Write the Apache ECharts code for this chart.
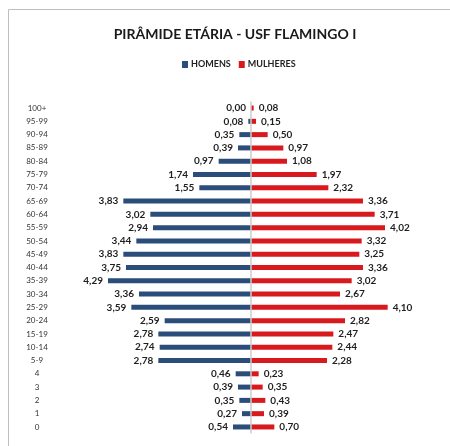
<!DOCTYPE html>
<html>
<head>
<meta charset="utf-8">
<script src="https://cdn.jsdelivr.net/npm/echarts@6/dist/echarts.min.js"></script>
<style>
  html, body { margin: 0; padding: 0; background: #fff; }
  #chart { width: 450px; height: 446px; }
</style>
</head>
<body>
<div id="chart"></div>
<script>
// Age groups, bottom to top
var faixas = ['0', '1', '2', '3', '4', '5-9', '10-14', '15-19', '20-24', '25-29',
  '30-34', '35-39', '40-44', '45-49', '50-54', '55-59', '60-64', '65-69',
  '70-74', '75-79', '80-84', '85-89', '90-94', '95-99', '100+'];

// Percent of population by age group
var homens = [0.54, 0.27, 0.35, 0.39, 0.46, 2.78, 2.74, 2.78, 2.59, 3.59,
  3.36, 4.29, 3.75, 3.83, 3.44, 2.94, 3.02, 3.83,
  1.55, 1.74, 0.97, 0.39, 0.35, 0.08, 0.00];
var mulheres = [0.70, 0.39, 0.43, 0.35, 0.23, 2.28, 2.44, 2.47, 2.82, 4.10,
  2.67, 3.02, 3.36, 3.25, 3.32, 4.02, 3.71, 3.36,
  2.32, 1.97, 1.08, 0.97, 0.50, 0.15, 0.08];

var FONT = 'Lato, "Open Sans", sans-serif';
function fmt(v) { return Math.abs(v).toFixed(2).replace('.', ','); }

var chart = echarts.init(document.getElementById('chart'), null, { renderer: 'canvas' });
chart.setOption({
  animation: false,
  backgroundColor: '#ffffff',
  title: {
    text: 'PIRÂMIDE ETÁRIA - USF FLAMINGO I',
    left: 230, top: 22, textAlign: 'center',
    textStyle: { fontFamily: FONT, fontWeight: 'bold', fontSize: 14, color: '#1a1a1a' }
  },
  legend: {
    data: ['HOMENS', 'MULHERES'],
    left: 177, top: 55,
    itemWidth: 6, itemHeight: 7, itemGap: 8,
    icon: 'rect',
    textStyle: { fontFamily: FONT, fontWeight: 'bold', fontSize: 9, color: '#1f1f1f', padding: [0, 0, 0, -2] }
  },
  graphic: [{
    type: 'polyline',
    shape: { points: [[8.5, 446], [8.5, 9.5], [450, 9.5]] },
    style: { stroke: '#bfbfbf', lineWidth: 1, fill: null },
    silent: true
  }],
  grid: { left: 91, right: 39, top: 101.4, bottom: 12.4 },
  xAxis: {
    type: 'value', min: -4.8, max: 4.8,
    show: false
  },
  yAxis: {
    type: 'category', data: faixas,
    axisLine: { show: false, onZero: false },
    axisTick: { show: false },
    axisLabel: { align: 'center', margin: 54, fontFamily: FONT, fontSize: 8, color: '#333333' }
  },
  series: [{
    name: 'HOMENS', type: 'bar', stack: 'p', barWidth: 5,
    itemStyle: { color: '#2a4d7a' },
    data: homens.map(function (v) { return -v; }),
    label: {
      show: true, position: 'left', distance: 5,
      formatter: function (p) { return fmt(p.value); },
      fontFamily: FONT, fontWeight: 'bold', fontSize: 10, color: '#1f1f1f'
    },
    markLine: {
      silent: true, symbol: 'none', label: { show: false },
      lineStyle: { color: '#cccccc', type: 'solid', width: 1.5 },
      data: [{ xAxis: 0 }]
    }
  }, {
    name: 'MULHERES', type: 'bar', stack: 'p', barWidth: 5,
    itemStyle: { color: '#d8191e' },
    data: mulheres,
    label: {
      show: true, position: 'right', distance: 5,
      formatter: function (p) { return fmt(p.value); },
      fontFamily: FONT, fontWeight: 'bold', fontSize: 10, color: '#1f1f1f'
    }
  }]
});
</script>
</body>
</html>
